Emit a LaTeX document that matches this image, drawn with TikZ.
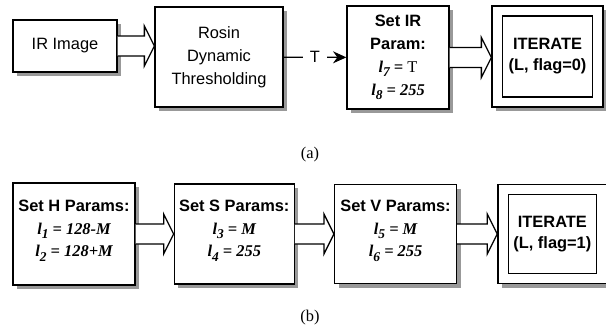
\documentclass[tikz,border=0pt]{standalone}
\usepackage{fontspec}
\setmainfont{Liberation Serif}
\setsansfont{Liberation Sans}
\usetikzlibrary{positioning, arrows.meta, calc, shadows}
\newcommand{\lvar}[1]{\textit{l}\raisebox{-0.55ex}{\fontsize{11.5}{12}\selectfont #1}}
\newcommand{\eqn}[1]{{\rmfamily\bfseries\itshape #1}}
% hollow block arrow from the east side of #1 to the west side of #2
\newcommand{\fatarrow}[2]{%
  \draw[hollow] let \p1=(#1.east), \p2=(#2.west) in
    (\x1,\y1+0.3cm) -- (\x2-0.3cm,\y1+0.3cm) -- (\x2-0.3cm,\y1+0.6cm) -- (\x2,\y1)
    -- (\x2-0.3cm,\y1-0.6cm) -- (\x2-0.3cm,\y1-0.3cm) -- (\x1,\y1-0.3cm);}

\begin{document}
\begin{tikzpicture}[
  box/.style={draw, fill=white, line width=1.1pt, align=center, inner sep=2pt,
              font=\sffamily\fontsize{14}{19.5}\selectfont,
              drop shadow={shadow xshift=0.12cm, shadow yshift=-0.12cm, fill=gray!80, opacity=1}},
  frame/.style={draw, fill=white, line width=1.1pt, align=center, inner sep=2pt,
                font=\sffamily\bfseries\fontsize{14}{18}\selectfont},
  hollow/.style={draw, fill=white, line width=1.1pt, line join=miter},
  arr/.style={-{Stealth[length=0.4cm, width=0.36cm]}, line width=1.1pt},
  caption/.style={font=\rmfamily\fontsize{14}{16}\selectfont}]
  \useasboundingbox (0,0) rectangle (18.18,-9.93);
  % row (a): threshold the IR image
  \node[box, minimum width=3.12cm, minimum height=1.56cm] (irimg) at (1.95,-1.38) {IR Image};
  \node[box, minimum width=3.84cm, minimum height=3.0cm] (rosin) at (6.57,-1.71) {Rosin\\Dynamic\\Thresholding};
  \node[box, minimum width=3.06cm, minimum height=3.09cm] (setir) at (11.94,-1.725)
    {\textbf{Set IR}\\\textbf{Param:}\\\eqn{\lvar{7} = \textup{\mdseries T}}\\\eqn{\lvar{8} = 255}};
  \node[box, minimum width=3.33cm, minimum height=3.03cm] (iterA) at (16.425,-1.695) {};
  \node[frame, minimum width=2.7cm, minimum height=2.43cm] (iterAin) at (iterA.center) {ITERATE\\(L, flag=0)};
  \fatarrow{irimg}{rosin}
  \draw[arr] (rosin) -- node[fill=white, font=\sffamily\fontsize{14}{16}\selectfont, inner sep=6pt] {T} (setir);
  \fatarrow{setir}{iterA}
  \node[caption] (capA) at (9.3,-4.65) {(a)};
  % row (b): H, S and V parameters
  \node[box, minimum width=3.66cm, minimum height=3.06cm] (hpar) at (2.22,-7.02)
    {\textbf{Set H Params:}\\\eqn{\lvar{1} = 128-M}\\\eqn{\lvar{2} = 128+M}\\[-0.35cm]};
  \node[box, minimum width=3.6cm, minimum height=3.0cm, right=1.14cm of hpar] (spar)
    {\textbf{Set S Params:}\\\eqn{\lvar{3} = M}\\\eqn{\lvar{4} = 255}\\[-0.35cm]};
  \node[box, minimum width=3.66cm, minimum height=2.97cm, right=1.17cm of spar] (vpar)
    {\textbf{Set V Params:}\\\eqn{\lvar{5} = M}\\\eqn{\lvar{6} = 255}\\[-0.35cm]};
  \node[box, minimum width=3.27cm, minimum height=2.97cm, right=1.2cm of vpar] (iterB) {};
  \node[frame, minimum width=2.64cm, minimum height=2.37cm] (iterBin) at (iterB.center) {ITERATE\\(L, flag=1)};
  \fatarrow{hpar}{spar}
  \fatarrow{spar}{vpar}
  \fatarrow{vpar}{iterB}
  \node[caption] (capB) at (9.3,-9.54) {(b)};
\end{tikzpicture}
\end{document}
